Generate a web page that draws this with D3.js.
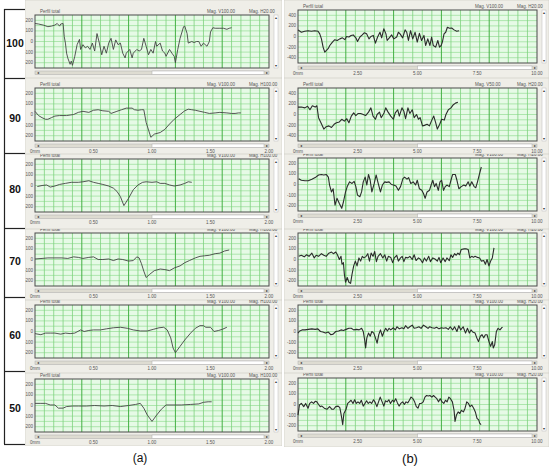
<html>
<head>
<style>
  body { margin: 0; background: #fff; }
  text { font-family: "Liberation Sans", Arial, sans-serif; }
</style>
</head>
<body>
<svg id="chart" width="550" height="468"></svg>
<script src="https://cdn.jsdelivr.net/npm/d3@7"></script>
<script>
// ---- data (x in mm, y in profile units) ----
const rowLabels = ["100", "90", "80", "70", "60", "50"];
const xTicksA = ["0mm", "0.50", "1.00", "1.50", "2.00"];
const xTicksB = ["0mm", "2.50", "5.00", "7.50", "10.00"];
const yTicksSmall = [200, 100, 0, -100, -200];
const yTicksLarge = [400, 200, 0, -200, -400];

const a100 = [[0,170],[.03,165],[.07,155],[.11,140],[.14,145],[.17,155],[.19,170],[.21,145],[.22,165],[.24,170],[.25,45],[.26,-15],[.27,-110],[.28,-155],[.30,-215],[.31,-185],[.32,-225],[.34,-140],[.36,-30],[.38,20],[.39,-75],[.41,-30],[.43,-60],[.45,-45],[.47,-75],[.49,-15],[.51,-90],[.53,75],[.55,-15],[.57,-125],[.59,-45],[.61,-110],[.63,-15],[.65,30],[.67,-75],[.69,15],[.71,-30],[.73,-15],[.75,-110],[.77,-155],[.78,-110],[.81,-75],[.83,-155],[.84,-110],[.87,-75],[.89,-90],[.91,-75],[.93,30],[.95,-45],[.97,-125],[.99,-75],[1.01,-110],[1.03,0],[1.04,-45],[1.07,-15],[1.09,-90],[1.11,-110],[1.12,-140],[1.15,-75],[1.17,-110],[1.19,-140],[1.20,-200],[1.22,-75],[1.24,30],[1.27,140],[1.28,145],[1.30,75],[1.31,-15],[1.34,0],[1.36,-10],[1.38,0],[1.40,0],[1.42,-45],[1.44,-15],[1.47,-45],[1.49,0],[1.50,90],[1.52,130],[1.54,125],[1.58,125],[1.61,125],[1.64,115],[1.66,125],[1.68,130]];
const a90 = [[0,30],[.03,-10],[.06,-30],[.09,-45],[.11,-45],[.14,-30],[.17,-15],[.21,-10],[.27,-10],[.33,0],[.37,20],[.41,30],[.46,20],[.50,40],[.54,45],[.58,35],[.63,30],[.65,10],[.70,30],[.74,45],[.78,60],[.83,60],[.85,45],[.88,40],[.91,45],[.93,45],[.95,-75],[.99,-215],[1.02,-185],[1.07,-170],[1.11,-140],[1.15,-90],[1.19,-45],[1.24,0],[1.28,35],[1.31,50],[1.34,45],[1.37,40],[1.41,30],[1.45,20],[1.49,10],[1.54,15],[1.58,20],[1.64,15],[1.68,10],[1.71,10],[1.74,15],[1.76,15]];
const a80 = [[.02,-10],[.06,0],[.10,5],[.13,-15],[.17,-5],[.21,10],[.26,20],[.31,30],[.37,30],[.41,35],[.46,45],[.50,30],[.54,20],[.58,10],[.63,-5],[.67,-25],[.70,-55],[.73,-105],[.76,-190],[.80,-120],[.84,-40],[.88,5],[.92,30],[.95,35],[1.00,30],[1.04,35],[1.07,20],[1.11,20],[1.15,5],[1.19,-5],[1.24,5],[1.28,20],[1.31,35],[1.34,30]];
const a70 = [[0,5],[.06,10],[.11,15],[.17,15],[.23,15],[.28,10],[.33,25],[.37,20],[.41,10],[.46,20],[.50,25],[.54,0],[.58,0],[.63,5],[.67,-10],[.71,5],[.75,0],[.80,-15],[.84,-10],[.87,25],[.89,15],[.91,-40],[.93,-110],[.95,-170],[.98,-140],[1.02,-105],[1.07,-90],[1.11,-95],[1.15,-105],[1.19,-80],[1.24,-60],[1.28,-30],[1.32,-10],[1.37,15],[1.41,30],[1.45,35],[1.49,40],[1.54,55],[1.58,60],[1.62,80],[1.66,90]];
const a60 = [[0,-20],[.05,-30],[.09,-15],[.13,-15],[.17,-15],[.22,-25],[.26,-15],[.30,-20],[.34,-15],[.39,15],[.42,0],[.46,10],[.50,15],[.56,15],[.61,25],[.67,35],[.73,40],[.79,30],[.84,15],[.90,5],[.96,5],[1.01,20],[1.06,35],[1.10,40],[1.13,15],[1.16,-60],[1.18,-155],[1.20,-200],[1.24,-140],[1.28,-80],[1.33,-15],[1.37,30],[1.41,55],[1.44,55],[1.46,40],[1.50,40],[1.53,0],[1.57,10],[1.60,20],[1.64,40]];
const a50 = [[0,20],[.05,20],[.09,20],[.13,5],[.17,5],[.20,-25],[.24,-25],[.27,-10],[.32,-5],[.37,-5],[.44,-5],[.51,0],[.59,-5],[.66,0],[.73,-10],[.80,0],[.86,10],[.90,20],[.93,-25],[.96,-90],[1.00,-150],[1.04,-90],[1.08,-35],[1.12,5],[1.18,5],[1.25,5],[1.33,10],[1.40,15],[1.44,30],[1.48,35],[1.51,35]];

const b100 = [[0,125],[.14,80],[.28,100],[.42,110],[.56,100],[.70,110],[.84,100],[.91,50],[.98,-45],[1.05,-200],[1.12,-295],[1.19,-260],[1.26,-230],[1.33,-170],[1.44,-105],[1.54,-60],[1.64,-75],[1.75,-45],[1.86,-25],[1.96,-60],[2.03,0],[2.13,-10],[2.22,20],[2.31,30],[2.42,-25],[2.49,-95],[2.59,-10],[2.69,30],[2.77,70],[2.87,50],[2.97,-45],[3.05,0],[3.15,20],[3.24,-125],[3.33,-10],[3.43,80],[3.50,-25],[3.59,145],[3.68,50],[3.73,-75],[3.82,-25],[3.92,30],[4.01,-45],[4.13,-10],[4.20,80],[4.27,50],[4.38,-25],[4.48,125],[4.55,80],[4.62,-75],[4.71,110],[4.80,-45],[4.90,80],[4.99,-105],[5.08,60],[5.17,-75],[5.27,20],[5.34,-170],[5.43,-45],[5.52,-170],[5.59,-10],[5.66,-170],[5.76,-200],[5.85,-75],[5.92,-200],[5.99,-170],[6.04,-105],[6.11,50],[6.18,80],[6.25,175],[6.34,155],[6.43,160],[6.53,125],[6.64,100],[6.74,110]];
const b90 = [[0,140],[.14,140],[.29,125],[.40,155],[.50,90],[.60,165],[.72,140],[.79,165],[.86,-60],[.96,-155],[1.08,-275],[1.18,-230],[1.29,-215],[1.40,-245],[1.51,-185],[1.61,-155],[1.73,-140],[1.83,-90],[1.94,-125],[2.04,-80],[2.13,-155],[2.23,-30],[2.33,30],[2.42,-20],[2.52,20],[2.62,20],[2.73,0],[2.83,-20],[2.95,45],[3.05,125],[3.14,-30],[3.24,-90],[3.31,0],[3.41,45],[3.48,-60],[3.60,30],[3.67,125],[3.77,45],[3.88,-30],[3.99,-90],[4.07,30],[4.17,90],[4.24,-30],[4.35,125],[4.43,60],[4.50,-80],[4.60,125],[4.68,20],[4.78,90],[4.86,-60],[4.96,0],[5.04,-90],[5.11,-60],[5.21,-215],[5.29,-205],[5.40,-185],[5.50,-215],[5.58,-125],[5.68,-30],[5.76,-155],[5.83,-275],[5.93,-185],[6.01,-90],[6.12,-105],[6.19,0],[6.29,90],[6.40,125],[6.50,185],[6.59,215],[6.69,230]];
const b80 = [[.03,55],[.14,40],[.29,35],[.43,35],[.58,50],[.72,65],[.86,90],[.98,95],[1.08,90],[1.18,95],[1.27,70],[1.32,-5],[1.40,-70],[1.47,-40],[1.55,-195],[1.63,-130],[1.73,-180],[1.83,-225],[1.90,-165],[1.99,-70],[2.06,-20],[2.16,25],[2.26,10],[2.35,30],[2.42,-20],[2.49,-100],[2.59,-115],[2.66,-70],[2.73,25],[2.81,70],[2.88,-5],[2.95,95],[3.02,40],[3.09,-70],[3.19,10],[3.27,90],[3.34,25],[3.45,-70],[3.53,-5],[3.63,25],[3.71,20],[3.81,25],[3.91,0],[4.00,-5],[4.10,-15],[4.20,-55],[4.29,-20],[4.39,55],[4.46,70],[4.56,50],[4.63,65],[4.72,10],[4.82,25],[4.92,-5],[4.99,40],[5.08,-40],[5.18,-55],[5.25,-85],[5.32,-130],[5.40,-70],[5.50,-55],[5.57,-5],[5.64,40],[5.71,-20],[5.78,10],[5.87,-55],[5.94,25],[6.01,40],[6.09,-55],[6.16,-20],[6.23,-5],[6.33,-20],[6.40,40],[6.47,95],[6.58,95],[6.65,40],[6.73,-40],[6.83,-20],[6.94,-5],[7.02,-15],[7.12,25],[7.19,-15],[7.27,25],[7.37,-20],[7.44,-30],[7.51,25],[7.60,105],[7.67,165]];
const b70 = [[.03,30],[.14,40],[.26,25],[.36,45],[.46,30],[.58,60],[.68,15],[.76,40],[.86,30],[.98,55],[1.08,40],[1.18,30],[1.29,60],[1.40,70],[1.48,55],[1.58,70],[1.65,45],[1.73,0],[1.80,30],[1.84,-45],[1.90,-30],[1.94,-140],[1.99,-215],[2.06,-170],[2.13,-215],[2.20,-225],[2.26,-140],[2.33,-60],[2.40,-15],[2.47,-60],[2.55,15],[2.62,-15],[2.69,30],[2.76,15],[2.85,30],[2.92,55],[2.99,-15],[3.06,60],[3.14,30],[3.21,75],[3.28,-20],[3.35,30],[3.45,55],[3.55,15],[3.63,45],[3.71,-15],[3.78,30],[3.88,20],[3.96,-30],[4.03,15],[4.13,40],[4.20,-15],[4.29,15],[4.36,30],[4.43,-20],[4.50,20],[4.60,15],[4.68,30],[4.78,0],[4.86,45],[4.94,-10],[5.04,15],[5.11,5],[5.21,-30],[5.29,15],[5.37,-15],[5.47,30],[5.54,-20],[5.64,15],[5.73,5],[5.83,-15],[5.90,20],[5.97,-30],[6.07,15],[6.16,-20],[6.23,15],[6.33,-10],[6.40,45],[6.47,20],[6.55,55],[6.62,40],[6.69,60],[6.76,45],[6.83,95],[6.95,100],[7.05,100],[7.12,95],[7.19,15],[7.27,30],[7.34,20],[7.41,30],[7.51,20],[7.60,15],[7.67,-15],[7.77,-10],[7.84,-45],[7.91,0],[7.99,-60],[8.06,-15],[8.13,15],[8.20,110]];
const b60 = [[0,-15],[.07,5],[.17,15],[.29,15],[.43,20],[.58,25],[.72,20],[.83,25],[.94,0],[1.04,-5],[1.15,-15],[1.27,-5],[1.37,-30],[1.47,-25],[1.58,0],[1.70,5],[1.80,15],[1.90,10],[2.01,20],[2.13,30],[2.23,30],[2.33,15],[2.45,20],[2.56,15],[2.66,30],[2.73,0],[2.79,-80],[2.83,-155],[2.88,-60],[2.95,-15],[3.02,-45],[3.09,0],[3.17,-15],[3.24,-60],[3.31,-110],[3.38,-30],[3.45,15],[3.53,-45],[3.60,0],[3.67,30],[3.74,5],[3.81,30],[3.88,15],[3.99,35],[4.07,15],[4.14,45],[4.24,25],[4.35,35],[4.43,25],[4.50,55],[4.60,30],[4.68,45],[4.78,60],[4.86,30],[4.96,35],[5.06,45],[5.15,30],[5.25,60],[5.35,45],[5.44,30],[5.51,45],[5.61,35],[5.71,30],[5.80,40],[5.90,25],[6.00,35],[6.09,30],[6.19,35],[6.29,20],[6.37,45],[6.47,15],[6.55,45],[6.65,0],[6.73,55],[6.81,15],[6.91,45],[7.01,-15],[7.09,30],[7.17,-15],[7.24,15],[7.31,-5],[7.41,-15],[7.48,-60],[7.55,-95],[7.63,-45],[7.70,-30],[7.77,-60],[7.84,-30],[7.91,-30],[7.99,-95],[8.06,-140],[8.13,-95],[8.17,-155],[8.23,-125],[8.30,0],[8.37,30],[8.45,15],[8.52,35],[8.56,40]];
const b50 = [[0,-100],[.06,-5],[.14,10],[.24,-20],[.32,10],[.42,-35],[.49,10],[.57,25],[.65,10],[.72,30],[.79,25],[.86,0],[.93,-20],[1.00,-15],[1.10,-35],[1.21,-45],[1.32,-20],[1.42,-45],[1.49,-45],[1.58,-20],[1.68,-15],[1.75,-30],[1.82,-115],[1.87,-190],[1.92,-85],[2.01,-45],[2.08,10],[2.15,25],[2.22,40],[2.30,10],[2.37,45],[2.44,10],[2.51,25],[2.58,10],[2.65,40],[2.73,-15],[2.80,10],[2.87,35],[2.94,10],[3.01,25],[3.08,10],[3.16,45],[3.23,20],[3.30,-20],[3.37,25],[3.44,70],[3.52,25],[3.59,-15],[3.66,35],[3.73,25],[3.80,45],[3.87,10],[3.95,40],[4.02,25],[4.09,55],[4.16,15],[4.23,-15],[4.30,10],[4.38,25],[4.45,0],[4.52,25],[4.59,15],[4.66,40],[4.73,70],[4.81,55],[4.88,25],[4.95,-20],[5.02,-35],[5.09,10],[5.16,10],[5.24,25],[5.31,70],[5.38,85],[5.45,80],[5.52,85],[5.60,70],[5.67,85],[5.74,70],[5.81,55],[5.88,25],[5.95,55],[6.03,25],[6.10,10],[6.17,40],[6.24,25],[6.31,70],[6.38,55],[6.46,25],[6.53,-55],[6.57,-160],[6.63,-100],[6.70,-70],[6.77,-85],[6.84,-55],[6.92,-70],[6.99,-35],[7.06,25],[7.13,10],[7.20,-20],[7.27,-5],[7.35,-35],[7.42,-70],[7.49,-130],[7.56,-145],[7.60,-175],[7.66,-190]];

const seriesA = [a100, a90, a80, a70, a60, a50];
const seriesB = [b100, b90, b80, b70, b60, b50];
const magA = [["Mag. V100.00", "Mag. H20.00"], ["Mag. V100.00", "Mag. H100.00"], ["Mag. V100.00", "Mag. H100.00"], ["Mag. V100.00", "Mag. H100.00"], ["Mag. V100.00", "Mag. H100.00"], ["Mag. V100.00", "Mag. H100.00"]];
const magB = [["Mag. V100.00", "Mag. H20.00"], ["Mag. V50.00", "Mag. H20.00"], ["Mag. V100.00", "Mag. H20.00"], ["Mag. V100.00", "Mag. H20.00"], ["Mag. V100.00", "Mag. H20.00"], ["Mag. V100.00", "Mag. H20.00"]];

// ---- layout ----
const svg = d3.select("#chart");
const rowSep = [9, 78, 153, 228, 297, 371, 444];
const plotTopA = [15, 88, 159, 233, 305, 379];
const plotTopB = [10, 88, 158, 233, 305, 378];
const plotH = 53;
const frameTop = [0, 78, 154, 229, 300, 373];
const frameBot = [78, 154, 229, 300, 373, 447];

// label column box
svg.append("line").attr("x1", 4.5).attr("x2", 4.5).attr("y1", rowSep[0]).attr("y2", rowSep[6])
  .attr("stroke", "#222").attr("stroke-width", 1.2);
rowSep.forEach(y => {
  svg.append("line").attr("x1", 4).attr("x2", 25).attr("y1", y + 0.5).attr("y2", y + 0.5)
    .attr("stroke", "#222").attr("stroke-width", 1.2);
});
const labelY = [43, 118, 189, 261, 335, 408];
rowLabels.forEach((t, i) => {
  svg.append("text").attr("x", 15).attr("y", labelY[i]).attr("dy", "0.35em")
    .attr("text-anchor", "middle").attr("font-size", 10.5).attr("font-weight", "bold")
    .attr("fill", "#111").text(t);
});

function drawPanel(o) {
  const clipId = "clip" + o.id;
  svg.append("clipPath").attr("id", clipId).append("rect")
    .attr("x", o.fx0).attr("y", o.fy0).attr("width", o.fx1 - o.fx0).attr("height", o.fy1 - o.fy0);
  const g = svg.append("g").attr("clip-path", `url(#${clipId})`);

  g.append("rect").attr("x", o.fx0).attr("y", o.fy0).attr("width", o.fx1 - o.fx0).attr("height", o.fy1 - o.fy0)
    .attr("fill", "#efeee8").attr("stroke", "#c9c8c0").attr("stroke-width", 0.6);

  const x = d3.scaleLinear().domain([0, o.xMax]).range([o.px0, o.px1]);
  const y = d3.scaleLinear().domain([-o.yMax, o.yMax]).range([o.py1, o.py0]);

  g.append("rect").attr("x", o.px0).attr("y", o.py0).attr("width", o.px1 - o.px0).attr("height", o.py1 - o.py0)
    .attr("fill", "#e6fae6");

  // grid
  const nx = 25;
  const ystep = o.yMax / 5;
  d3.range(-o.yMax + ystep, o.yMax, ystep).forEach(v => {
    g.append("line").attr("x1", o.px0).attr("x2", o.px1).attr("y1", y(v)).attr("y2", y(v))
      .attr("stroke", "#86d886").attr("stroke-width", 0.6);
  });
  d3.range(1, nx).forEach(i => {
    const xx = o.px0 + (o.px1 - o.px0) * i / nx;
    g.append("line").attr("x1", xx).attr("x2", xx).attr("y1", o.py0).attr("y2", o.py1)
      .attr("stroke", i % 5 === 0 ? "#44b044" : "#7ed27e").attr("stroke-width", i % 5 === 0 ? 1 : 0.8);
  });

  g.append("rect").attr("x", o.px0).attr("y", o.py0).attr("width", o.px1 - o.px0).attr("height", o.py1 - o.py0)
    .attr("fill", "none").attr("stroke", "#4a4a4a").attr("stroke-width", 1);

  // profile
  g.append("path").datum(o.data)
    .attr("d", d3.line().x(d => x(d[0])).y(d => y(d[1])))
    .attr("fill", "none").attr("stroke", o.color).attr("stroke-width", o.lw)
    .attr("stroke-linejoin", "round");

  // y labels
  o.yTicks.forEach(v => {
    g.append("text").attr("x", o.px0 - 2).attr("y", y(v)).attr("dy", "0.35em")
      .attr("text-anchor", "end").attr("font-size", 4.5).attr("fill", "#555").text(v);
  });

  // header
  g.append("text").attr("x", o.px0 + 5).attr("y", o.py0 - 2).attr("font-size", 4.5).attr("fill", "#555").text("Perfil total");
  g.append("text").attr("x", o.px1 - 62).attr("y", o.py0 - 2).attr("font-size", 4.5).attr("fill", "#555").text(o.mag[0]);
  g.append("text").attr("x", o.px1 - 20).attr("y", o.py0 - 2).attr("font-size", 4.5).attr("fill", "#555").text(o.mag[1]);

  // vertical scrollbar
  const vx = o.px1 + 5;
  g.append("rect").attr("x", vx).attr("y", o.py0).attr("width", 4).attr("height", o.py1 - o.py0)
    .attr("fill", "#fff").attr("stroke", "#bbb").attr("stroke-width", 0.5);
  g.append("text").attr("x", vx + 2).attr("y", o.py0 + 4).attr("text-anchor", "middle").attr("font-size", 4).attr("fill", "#333").text("▴");
  g.append("text").attr("x", vx + 2).attr("y", o.py1 - 1).attr("text-anchor", "middle").attr("font-size", 4).attr("fill", "#333").text("▾");

  // horizontal scrollbar
  const sy = o.py1 + 3;
  const mid = (o.px0 + o.px1) / 2;
  g.append("rect").attr("x", o.px0).attr("y", sy).attr("width", o.px1 - o.px0).attr("height", 3.5)
    .attr("fill", "#dedcd2").attr("stroke", "#aaa").attr("stroke-width", 0.5);
  g.append("rect").attr("x", mid).attr("y", sy).attr("width", o.px1 - 5 - mid).attr("height", 3.5)
    .attr("fill", "#fff").attr("stroke", "#aaa").attr("stroke-width", 0.5);
  g.append("text").attr("x", o.px0 + 2).attr("y", sy + 3.2).attr("font-size", 4).attr("fill", "#333").text("◂");
  g.append("text").attr("x", o.px1 - 3).attr("y", sy + 3.2).attr("font-size", 4).attr("fill", "#333").text("▸");

  // x labels
  if (o.showX) {
    o.xTicks.forEach((t, i) => {
      g.append("text").attr("x", x(o.xMax * i / (o.xTicks.length - 1))).attr("y", o.py1 + 11.5)
        .attr("text-anchor", "middle").attr("font-size", 4.5).attr("fill", "#555").text(t);
    });
  }
}

seriesA.forEach((data, i) => {
  drawPanel({
    id: "a" + i, fx0: 25, fx1: 282, fy0: frameTop[i], fy1: frameBot[i] - (i === 5 ? 1 : 0),
    px0: 35, px1: 269, py0: plotTopA[i], py1: plotTopA[i] + plotH,
    xMax: 2, yMax: 250, yTicks: yTicksSmall, xTicks: xTicksA, data: data, mag: magA[i],
    lw: 0.9, color: "#444", showX: i > 0
  });
});
seriesB.forEach((data, i) => {
  drawPanel({
    id: "b" + i, fx0: 284, fx1: 549, fy0: frameTop[i], fy1: frameBot[i],
    px0: 298, px1: 537, py0: plotTopB[i], py1: plotTopB[i] + plotH,
    xMax: 10, yMax: i < 2 ? 500 : 250, yTicks: i < 2 ? yTicksLarge : yTicksSmall,
    xTicks: xTicksB, data: data, mag: magB[i], lw: 1.1, color: "#2b2b2b", showX: true
  });
});

svg.append("text").attr("x", 140).attr("y", 458).attr("dy", "0.35em").attr("text-anchor", "middle")
  .attr("font-size", 12).attr("fill", "#111").text("(a)");
svg.append("text").attr("x", 410).attr("y", 458).attr("dy", "0.35em").attr("text-anchor", "middle")
  .attr("font-family", "Liberation Serif, serif").attr("font-size", 13).attr("fill", "#111").text("(b)");
</script>
</body>
</html>
